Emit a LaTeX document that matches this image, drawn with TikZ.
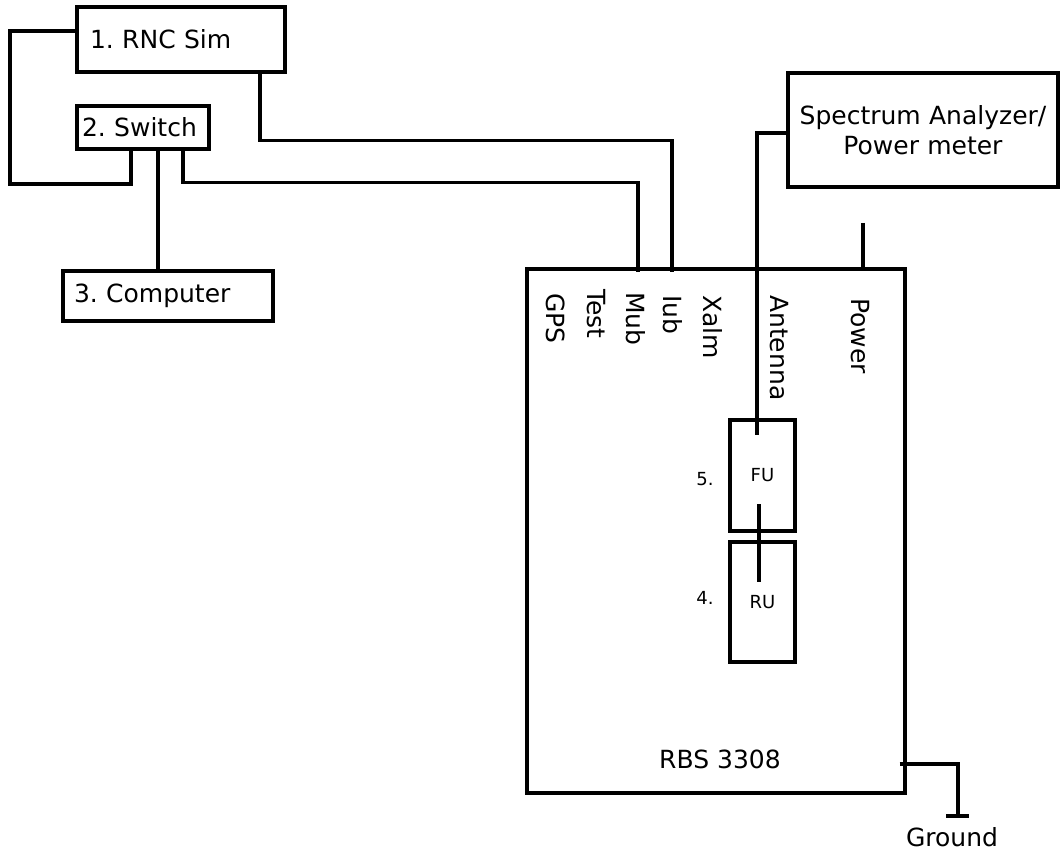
\documentclass[tikz,border=0pt]{standalone}
\usepackage{fontspec}
\setmainfont{DejaVu Sans}
\usetikzlibrary{positioning,calc}
\tikzset{
  wire/.style={line width=3.2pt},
  unitbox/.style={draw,line width=3.2pt,inner ysep=0pt,align=left,font=\fontsize{25}{30}\selectfont},
  subunit/.style={draw,line width=3.2pt,minimum width=65pt,font=\fontsize{18}{22}\selectfont},
  port/.style={rotate=-90,anchor=west,inner sep=0pt,font=\fontsize{25}{30}\selectfont},
  tag/.style={font=\fontsize{25}{30}\selectfont},
  smalltag/.style={font=\fontsize{18}{22}\selectfont},
}
\frenchspacing

\begin{document}
\begin{tikzpicture}[x=1pt,y=-1pt]
  \useasboundingbox (0,0) rectangle (1061,853);
  % test equipment
  \node[unitbox,text width=182pt,inner xsep=13pt,minimum height=65pt] (rnc) at (181,39.5) {1. RNC Sim};
  \node[unitbox,text width=122pt,inner xsep=5pt,minimum height=43pt] (switch) at (143,127.5) {2. Switch};
  \node[unitbox,text width=188pt,inner xsep=11pt,minimum height=50pt] (computer) at (168,296) {3. Computer};
  \node[unitbox,text width=262pt,inner xsep=4pt,minimum height=114pt,align=center] (spec) at (923,130) {Spectrum Analyzer/\\Power meter};
  % base station
  \node[draw,line width=3.2pt,minimum width=378pt,minimum height=524pt] (rbs) at (716,531) {};
  \node[tag] (rbsname) at (720,759) {RBS 3308};
  \node[subunit,minimum height=111pt] (fu) at (762.5,475.5) {FU};
  \node[subunit,minimum height=120pt] (ru) at (762.5,602) {RU};
  \node[smalltag] (funum) at (705,479) {5.};
  \node[smalltag] (runum) at (705,598) {4.};
  % ports
  \foreach \x/\y/\name in {556/293/GPS,596/289/Test,636/292/Mub,673/295/Iub,713/295/Xalm,779/295/Antenna,860/298/Power}
    \node[port] (p\name) at (\x,\y) {\name};
  \coordinate (mub) at (rbs.north -| 638,0);
  \coordinate (iub) at (rbs.north -| 672,0);
  \coordinate (pwr) at (863,223);
  \coordinate (gnd) at (958,816);
  % cables
  \draw[wire] ([yshift=8.5pt]rnc.west) -| (10,184) -| ([xshift=-12pt]switch.south);
  \draw[wire] ([xshift=15pt]switch.south) -- ([xshift=15pt]switch.south |- computer.north);
  \draw[wire] ([xshift=40pt]switch.south) -- ++(0,32) -| ([yshift=-5pt]mub);
  \draw[wire] ([xshift=79pt]rnc.south) -- ++(0,67) -| ([yshift=-5pt]iub);
  \draw[wire] ([yshift=-3pt]spec.west) -| ([xshift=-5.5pt,yshift=-17pt]fu.north);
  \draw[wire] (pwr) -- ([yshift=-4pt]pwr |- rbs.north);
  \draw[wire] ([shift={(-3.5pt,-28.5pt)}]fu.center) -- ([shift={(-3.5pt,20pt)}]ru.center);
  % ground
  \draw[wire] ([xshift=-7pt,yshift=-233pt]rbs.east) -| (gnd);
  \draw[wire] ([xshift=-12pt]gnd) -- ([xshift=11pt]gnd);
  \node[tag] (ground) at (952,837) {Ground};
\end{tikzpicture}
\end{document}
